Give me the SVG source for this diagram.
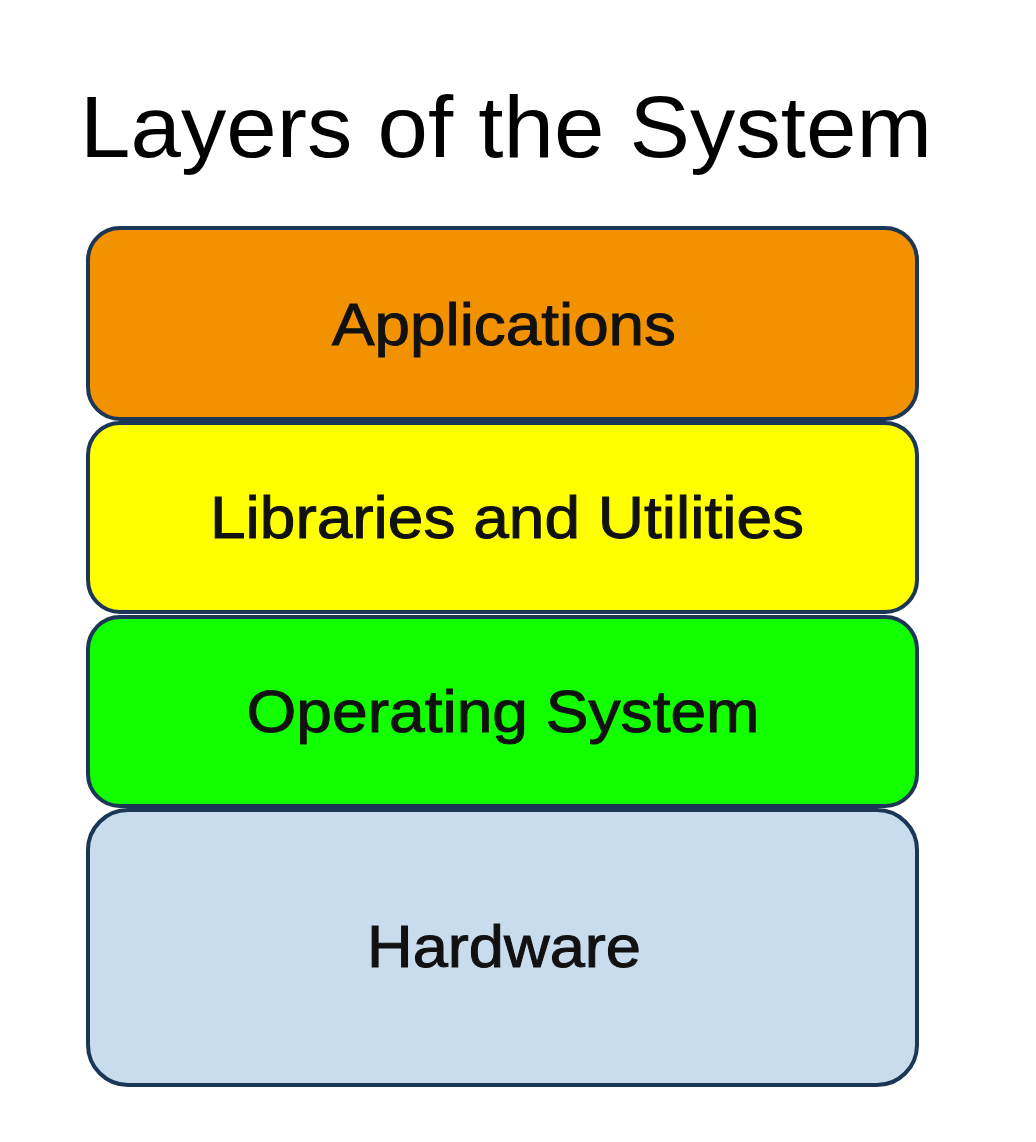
<svg xmlns="http://www.w3.org/2000/svg" width="1036" height="1142" viewBox="0 0 1036 1142">
<style>
.layer{stroke:#1c3655;stroke-width:4}
.lbl{font-family:"Liberation Sans",Arial,sans-serif;font-size:60px;fill:#111;stroke:#111;stroke-width:1;text-anchor:middle}
.title{font-family:"Liberation Sans",Arial,sans-serif;font-size:88px;fill:#000;text-anchor:middle}
</style>
<rect width="1036" height="1142" fill="#ffffff"/>
<text class="title" x="506" y="157" textLength="852" lengthAdjust="spacingAndGlyphs">Layers of the System</text>
<g id="connectors"></g>
<g id="applications">
<rect class="layer" x="88" y="228" width="829" height="191" rx="32" fill="#f39200"/>
<text class="lbl" x="504" y="345" textLength="344" lengthAdjust="spacingAndGlyphs">Applications</text>
</g>
<g id="libraries">
<rect class="layer" x="88" y="423" width="829" height="189" rx="32" fill="#ffff00"/>
<text class="lbl" x="507" y="538" textLength="594" lengthAdjust="spacingAndGlyphs">Libraries and Utilities</text>
</g>
<g id="os">
<rect class="layer" x="88" y="617" width="829" height="189" rx="32" fill="#12ff00"/>
<text class="lbl" x="503" y="732" textLength="513" lengthAdjust="spacingAndGlyphs">Operating System</text>
</g>
<g id="hardware">
<rect class="layer" x="88" y="810" width="829" height="275" rx="40" fill="#c9dcee"/>
<text class="lbl" x="504" y="967" textLength="274" lengthAdjust="spacingAndGlyphs">Hardware</text>
</g>
</svg>
